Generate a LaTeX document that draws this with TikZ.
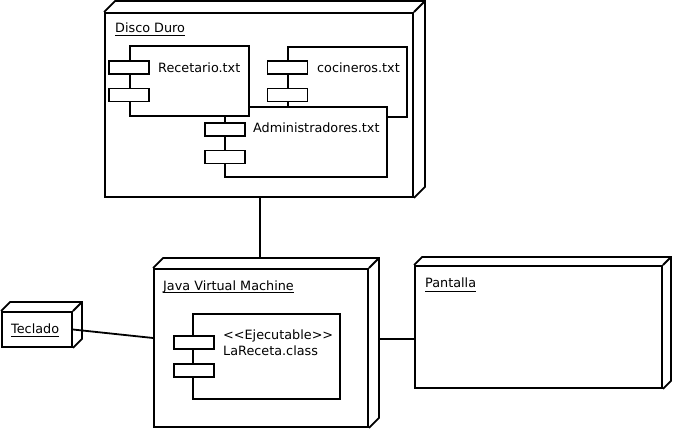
\documentclass[tikz,border=0pt]{standalone}
\usepackage{fontspec}
\setmainfont{DejaVu Sans}
\begin{document}
\begin{tikzpicture}[x=1pt,y=-1pt,
  every node/.style={font=\fontsize{12.8}{14}\selectfont},
  box/.style={draw, line width=1.8pt, fill=white, inner sep=0pt, rectangle},
  port/.style={draw, line width=1.8pt, fill=white, inner sep=0pt, minimum width=40pt, minimum height=13pt},
  txt/.style={anchor=base west, inner sep=0pt},
  lnk/.style={line width=1.8pt},
  ul/.style={line width=1pt}
]
\useasboundingbox (0,0) rectangle (673,430);
% 3D node macro
\newcommand{\cube}[2]{%
  \draw[lnk, line join=miter] (#1.north west) -- ++(#2,-#2) -- ([shift={(#2,-#2)}]#1.north east) -- ([shift={(#2,-#2)}]#1.south east) -- (#1.south east);
  \draw[lnk] (#1.north east) -- ++(#2,-#2);}

% Disco Duro
\node[box, minimum width=308pt, minimum height=184pt] (disco) at (259,105) {};
\cube{disco}{11}
\node[txt] (discolbl) at (115,33) {Disco Duro};
\draw[ul] ([yshift=-2.5pt]discolbl.base west) -- ([yshift=-2.5pt]discolbl.base east);

% cocineros
\node[box, minimum width=119pt, minimum height=70pt] (coc) at (347.5,82) {};
\node[port] (coc1) at (287.5,67.5) {};
\node[port] (coc2) at (287.5,95) {};
\node[txt] (coctxt) at (317,73) {cocineros.txt};

% Administradores
\node[box, minimum width=162pt, minimum height=70pt] (adm) at (306,142) {};
\node[port] (adm1) at (225,129.5) {};
\node[port] (adm2) at (225,157) {};
\node[txt] (admtxt) at (253,133) {Administradores.txt};

% Recetario
\node[box, minimum width=119pt, minimum height=70pt] (rec) at (189.5,81) {};
\node[port] (rec1) at (129,67.5) {};
\node[port] (rec2) at (129,95) {};
\node[txt] (rectxt) at (158,73) {Recetario.txt};

% JVM
\node[box, minimum width=214pt, minimum height=158pt] (jvm) at (261,348) {};
\cube{jvm}{10}
\node[txt] (jvmlbl) at (163,290.5) {Java Virtual Machine};
\draw[ul] ([yshift=-2.5pt]jvmlbl.base west) -- ([yshift=-2.5pt]jvmlbl.base east);
\node[box, minimum width=147pt, minimum height=85pt] (lar) at (266.5,356.5) {};
\node[port] (lar1) at (194,342.5) {};
\node[port] (lar2) at (194,370.5) {};
\node[txt] (lartxt1) at (223,340) {<\kern0pt<Ejecutable>\kern0pt>};
\node[txt] (lartxt2) at (223,355.5) {LaReceta.class};

% Teclado
\node[box, minimum width=70pt, minimum height=35pt] (teclado) at (37,329.5) {};
\cube{teclado}{9}
\node[txt] (teclbl) at (11,334) {Teclado};
\draw[ul] ([yshift=-3pt]teclbl.base west) -- ([yshift=-3pt]teclbl.base east);

% Pantalla
\node[box, minimum width=247pt, minimum height=122pt] (pantalla) at (538.5,327) {};
\cube{pantalla}{8}
\node[txt] (panlbl) at (425,288) {Pantalla};
\draw[ul] ([yshift=-3.5pt]panlbl.base west) -- ([yshift=-3.5pt]panlbl.base east);

% connectors
\coordinate (jvmback) at ([shift={(0,-10)}]jvm.north);
\draw[lnk] ([xshift=1pt]disco.south) -- ([xshift=1pt]disco.south |- jvmback);
\draw[lnk] (teclado.east) -- ([shift={(0,-10)}]jvm.west);
\coordinate (jvmside) at ([shift={(10,-9)}]jvm.east);
\draw[lnk] (jvmside) -- (pantalla.west |- jvmside);
\end{tikzpicture}
\end{document}
